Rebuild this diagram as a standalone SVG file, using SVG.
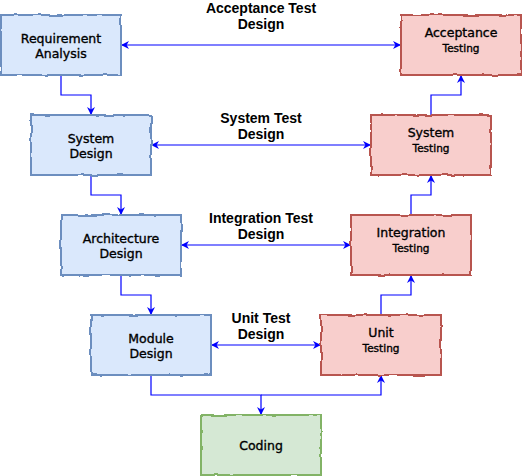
<svg xmlns="http://www.w3.org/2000/svg" width="522" height="476" viewBox="0 0 522 476">
<defs>
<style>
.box{stroke-width:2;filter:url(#sketch)}
.blue{fill:#dae8fc;stroke:#6c8ebf}
.red{fill:#f8cecc;stroke:#b85450}
.green{fill:#d5e8d4;stroke:#82b366}
.nt{font-family:"Comic Sans MS","DejaVu Sans",sans-serif;font-size:12.5px;fill:#000;stroke:#000;stroke-width:0.35;text-anchor:middle}
.ns{font-size:10.5px}
.lb{font-family:"Liberation Sans",Arial,sans-serif;font-size:14px;font-weight:bold;fill:#000;text-anchor:middle}
.edge{fill:none;stroke:#0000ff;stroke-width:1.2}
.one{marker-end:url(#arr)}
.two{marker-start:url(#arrs);marker-end:url(#arr)}
</style>
<filter id="sketch" x="-5%" y="-10%" width="110%" height="120%">
<feTurbulence type="fractalNoise" baseFrequency="0.08" numOctaves="2" seed="3" result="n"/>
<feDisplacementMap in="SourceGraphic" in2="n" scale="3" xChannelSelector="R" yChannelSelector="G"/>
</filter>
<marker id="arr" viewBox="0 0 10 10" refX="10" refY="5" markerWidth="8" markerHeight="8" markerUnits="userSpaceOnUse" orient="auto">
<path d="M0,0 L10,5 L0,10 L3,5 z" fill="#0000ff"/>
</marker>
<marker id="arrs" viewBox="0 0 10 10" refX="0" refY="5" markerWidth="8" markerHeight="8" markerUnits="userSpaceOnUse" orient="auto">
<path d="M10,0 L0,5 L10,10 L7,5 z" fill="#0000ff"/>
</marker>
</defs>

<g id="connectors">
<path class="edge one" d="M61,75 V95 H91 V115"/>
<path class="edge one" d="M91,175 V195 H121 V215"/>
<path class="edge one" d="M121,275 V295 H151 V315"/>
<path class="edge one" d="M151,375 V395 H261 V415"/>
<path class="edge one" d="M261,395 H381 V375"/>
<path class="edge one" d="M381,315 V295 H411 V275"/>
<path class="edge one" d="M411,215 V195 H431 V175"/>
<path class="edge one" d="M431,115 V95 H461 V75"/>
<path class="edge two" d="M121,45 H401"/>
<path class="edge two" d="M151,145 H371"/>
<path class="edge two" d="M181,245 H351"/>
<path class="edge two" d="M211,345 H321"/>
</g>

<g id="labels">
<text class="lb" x="261" y="13">Acceptance Test<tspan x="261" dy="15.5">Design</tspan></text>
<text class="lb" x="261" y="123">System Test<tspan x="261" dy="15.5">Design</tspan></text>
<text class="lb" x="261" y="223">Integration Test<tspan x="261" dy="15.5">Design</tspan></text>
<text class="lb" x="261" y="323">Unit Test<tspan x="261" dy="15.5">Design</tspan></text>
</g>

<g id="requirement-analysis">
<rect class="box blue" x="1" y="15" width="120" height="60"/>
<text class="nt" x="61" y="42.5">Requirement<tspan x="61" dy="15">Analysis</tspan></text>
</g>
<g id="system-design">
<rect class="box blue" x="31" y="115" width="120" height="60"/>
<text class="nt" x="91" y="142.5">System<tspan x="91" dy="15">Design</tspan></text>
</g>
<g id="architecture-design">
<rect class="box blue" x="61" y="215" width="120" height="60"/>
<text class="nt" x="121" y="242.5">Architecture<tspan x="121" dy="15">Design</tspan></text>
</g>
<g id="module-design">
<rect class="box blue" x="91" y="315" width="120" height="60"/>
<text class="nt" x="151" y="342.5">Module<tspan x="151" dy="15">Design</tspan></text>
</g>
<g id="acceptance-testing">
<rect class="box red" x="401" y="15" width="120" height="60"/>
<text class="nt" x="461" y="36.5">Acceptance<tspan class="ns" x="461" dy="15">Testing</tspan></text>
</g>
<g id="system-testing">
<rect class="box red" x="371" y="115" width="120" height="60"/>
<text class="nt" x="431" y="136.5">System<tspan class="ns" x="431" dy="15">Testing</tspan></text>
</g>
<g id="integration-testing">
<rect class="box red" x="351" y="215" width="120" height="60"/>
<text class="nt" x="411" y="236.5">Integration<tspan class="ns" x="411" dy="15">Testing</tspan></text>
</g>
<g id="unit-testing">
<rect class="box red" x="321" y="315" width="120" height="60"/>
<text class="nt" x="381" y="336.5">Unit<tspan class="ns" x="381" dy="15">Testing</tspan></text>
</g>
<g id="coding">
<rect class="box green" x="201" y="415" width="120" height="60"/>
<text class="nt" x="261" y="450">Coding</text>
</g>
</svg>
